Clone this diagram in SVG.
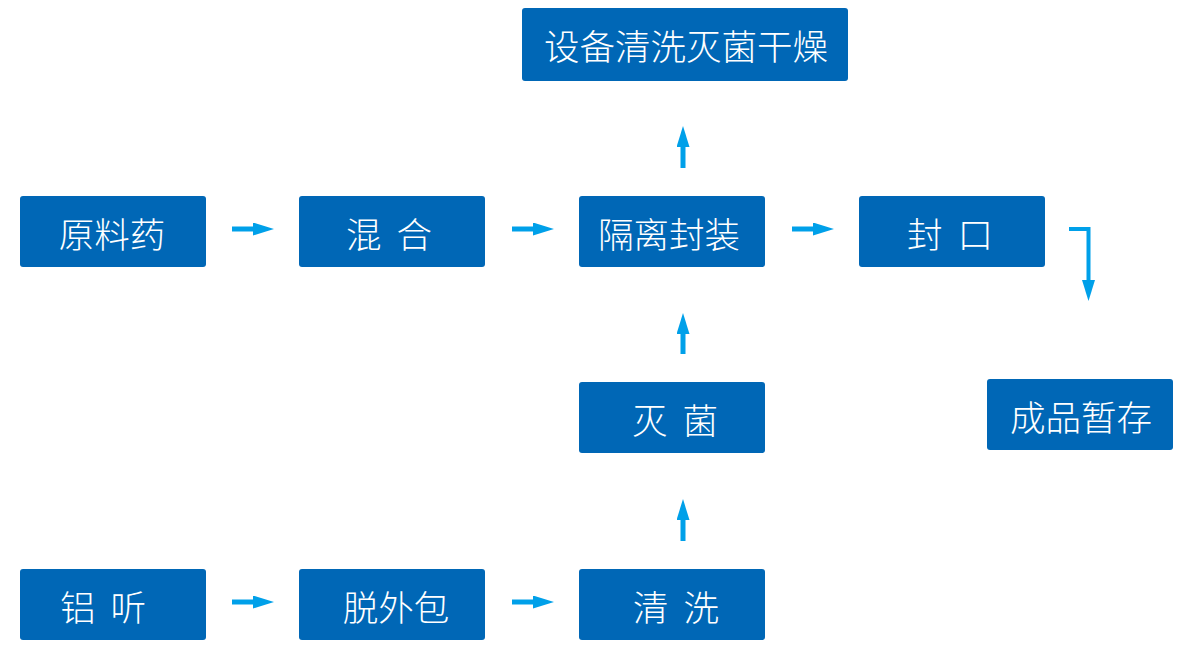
<svg xmlns="http://www.w3.org/2000/svg" width="1200" height="649" viewBox="0 0 1200 649">
<defs>
<marker id="ah" viewBox="0 0 21 13" refX="0" refY="6.5" markerWidth="21" markerHeight="13" markerUnits="userSpaceOnUse" orient="auto">
<path d="M0,0 L21,6.5 L0,13 Z" fill="#00A0E9"/>
</marker>
<style>
.box{fill:#0067B6;}
.lbl{fill:#ffffff;font-family:"Noto Sans CJK SC","Noto Sans",sans-serif;font-size:35.5px;font-weight:300;text-anchor:middle;}
.arr{stroke:#00A0E9;stroke-width:5;fill:none;marker-end:url(#ah);}
</style>
</defs>
<rect width="1200" height="649" fill="#ffffff"/>
<g id="n-dry"><rect class="box" x="522" y="8" width="326" height="73" rx="3"/><text class="lbl" x="686" y="60">设备清洗灭菌干燥</text></g>
<g id="n-raw"><rect class="box" x="20" y="196" width="186" height="71" rx="3"/><text class="lbl" x="112" y="248">原料药</text></g>
<g id="n-mix"><rect class="box" x="299" y="196" width="186" height="71" rx="3"/><text class="lbl" x="389" y="248" style="word-spacing:7px">混 合</text></g>
<g id="n-iso"><rect class="box" x="579" y="196" width="186" height="71" rx="3"/><text class="lbl" x="669" y="248">隔离封装</text></g>
<g id="n-seal"><rect class="box" x="859" y="196" width="186" height="71" rx="3"/><text class="lbl" x="950" y="248" style="word-spacing:7px">封 口</text></g>
<g id="n-store"><rect class="box" x="987" y="379" width="186" height="71" rx="3"/><text class="lbl" x="1081" y="431">成品暂存</text></g>
<g id="n-ster"><rect class="box" x="579" y="382" width="186" height="71" rx="3"/><text class="lbl" x="675" y="434" style="word-spacing:7px">灭 菌</text></g>
<g id="n-can"><rect class="box" x="20" y="569" width="186" height="71" rx="3"/><text class="lbl" x="103" y="621" style="word-spacing:7px">铝 听</text></g>
<g id="n-unpack"><rect class="box" x="299" y="569" width="186" height="71" rx="3"/><text class="lbl" x="396" y="621">脱外包</text></g>
<g id="n-wash"><rect class="box" x="579" y="569" width="186" height="71" rx="3"/><text class="lbl" x="676" y="621" style="word-spacing:7px">清 洗</text></g>
<g id="connectors">
<line class="arr" x1="232" y1="229" x2="253" y2="229"/>
<line class="arr" x1="512" y1="229" x2="533" y2="229"/>
<line class="arr" x1="792" y1="229" x2="813" y2="229"/>
<line class="arr" x1="232" y1="602" x2="253" y2="602"/>
<line class="arr" x1="512" y1="602" x2="533" y2="602"/>
<line class="arr" x1="683" y1="168" x2="683" y2="147"/>
<line class="arr" x1="683" y1="354" x2="683" y2="334"/>
<line class="arr" x1="683" y1="541" x2="683" y2="520"/>
<path class="arr" d="M1069,229 H1088.5 V280" style="stroke-width:4"/>
</g>
</svg>
